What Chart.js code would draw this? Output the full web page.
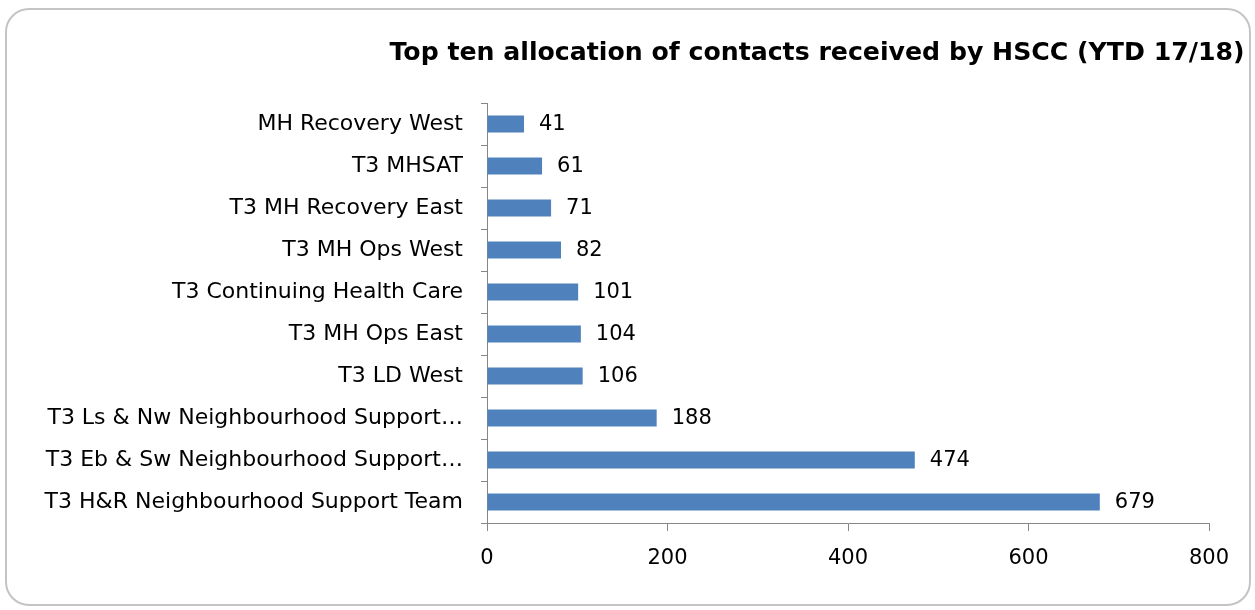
<!DOCTYPE html>
<html>
<head>
<meta charset="utf-8">
<script src="https://cdn.jsdelivr.net/npm/chart.js@4.4.1/dist/chart.umd.min.js"></script>
<style>
  html, body { margin: 0; padding: 0; background: #ffffff; }
  #wrap { position: relative; width: 1255px; height: 610px; }
  #frame { position: absolute; left: 5px; top: 8px; width: 1242px; height: 594px;
           border: 2px solid #c4c4c4; border-radius: 24px; pointer-events: none; }
  canvas { position: absolute; left: 0; top: 0; }
</style>
</head>
<body>
<div id="wrap">
  <canvas id="c" width="1255" height="610"></canvas>
  <div id="frame"></div>
</div>
<script>
const chartTitle = "Top ten allocation of contacts received by HSCC (YTD 17/18)";
const categories = [
  "MH Recovery West",
  "T3 MHSAT",
  "T3 MH Recovery East",
  "T3 MH Ops West",
  "T3 Continuing Health Care",
  "T3 MH Ops East",
  "T3 LD West",
  "T3 Ls & Nw Neighbourhood Support…",
  "T3 Eb & Sw Neighbourhood Support…",
  "T3 H&R Neighbourhood Support Team"
];
const contacts = [41, 61, 71, 82, 101, 104, 106, 188, 474, 679];
const xTicks = [0, 200, 400, 600, 800];

const FONT = "'DejaVu Sans', 'Liberation Sans', Arial, sans-serif";
const AXIS = "#868686";

const titlePlugin = {
  id: 'customTitle',
  afterDraw(chart) {
    const ctx = chart.ctx;
    ctx.save();
    ctx.font = "bold 25.2px " + FONT;
    ctx.fillStyle = "#000000";
    ctx.textAlign = "center";
    ctx.textBaseline = "alphabetic";
    ctx.fillText(chartTitle, 817, 60);
    ctx.restore();
  }
};

const valueLabels = {
  id: 'valueLabels',
  afterDatasetsDraw(chart) {
    const ctx = chart.ctx;
    const meta = chart.getDatasetMeta(0);
    ctx.save();
    ctx.font = "21px " + FONT;
    ctx.fillStyle = "#000000";
    ctx.textAlign = "left";
    ctx.textBaseline = "middle";
    meta.data.forEach((bar, i) => {
      ctx.fillText(String(contacts[i]), bar.x + 15, bar.y + 1);
    });
    ctx.restore();
  }
};

new Chart(document.getElementById('c'), {
  type: 'bar',
  data: {
    labels: categories,
    datasets: [{
      data: contacts,
      backgroundColor: "#4F81BD",
      borderWidth: 0,
      barPercentage: 0.4,
      categoryPercentage: 1.0
    }]
  },
  options: {
    indexAxis: 'y',
    responsive: false,
    animation: false,
    devicePixelRatio: 1,
    layout: { padding: { left: 0, top: 103, right: 46, bottom: 0 } },
    plugins: { legend: { display: false }, tooltip: { enabled: false }, title: { display: false } },
    scales: {
      x: {
        min: 0, max: 800,
        afterBuildTicks(scale) { scale.ticks = xTicks.map(v => ({ value: v })); },
        afterFit(scale) { scale.height = 87; },
        border: { display: true, color: AXIS, width: 1 },
        grid: { drawOnChartArea: false, drawTicks: true, tickLength: 8, color: AXIS },
        ticks: { color: "#000000", font: { family: FONT, size: 21 }, padding: 15, maxRotation: 0 }
      },
      y: {
        afterFit(scale) { scale.width = 487; },
        border: { display: true, color: AXIS, width: 1 },
        grid: { offset: true, drawOnChartArea: false, drawTicks: true, tickLength: 6, color: AXIS },
        ticks: { color: "#000000", font: { family: FONT, size: 22 }, padding: 18, autoSkip: false }
      }
    }
  },
  plugins: [titlePlugin, valueLabels]
});
</script>
</body>
</html>
